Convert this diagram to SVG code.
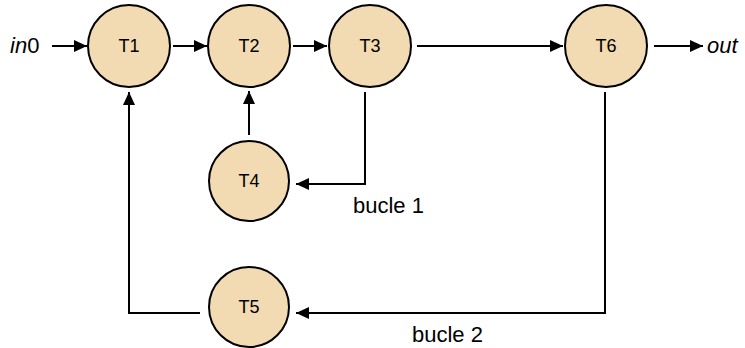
<svg xmlns="http://www.w3.org/2000/svg" width="745" height="348" viewBox="0 0 745 348">
  <style>
    .node circle { fill: #f2dab3; stroke: #000; stroke-width: 2; }
    .node text { font-family: "Liberation Sans", Arial, sans-serif; font-size: 18px; text-anchor: middle; fill: #000; }
    .edge { fill: none; stroke: #000; stroke-width: 2; }
    .lbl { font-family: "Liberation Sans", Arial, sans-serif; font-size: 22px; fill: #000; }
    .io { font-style: italic; font-size: 22px; }
    .up { font-style: normal; }
  </style>
  <defs>
    <marker id="arrow" viewBox="0 0 13 12" refX="13" refY="6" markerWidth="13" markerHeight="12" markerUnits="userSpaceOnUse" orient="auto">
      <path d="M0,0 L13,6 L0,12 Z" fill="#000"/>
    </marker>
  </defs>

  <rect width="745" height="348" fill="#fff"/>

  <g id="connectors">
    <line class="edge" x1="52" y1="46" x2="87" y2="46" marker-end="url(#arrow)"/>
    <line class="edge" x1="173" y1="46" x2="207" y2="46" marker-end="url(#arrow)"/>
    <line class="edge" x1="293" y1="46" x2="327" y2="46" marker-end="url(#arrow)"/>
    <line class="edge" x1="417" y1="46" x2="563" y2="46" marker-end="url(#arrow)"/>
    <line class="edge" x1="654" y1="46" x2="703" y2="46" marker-end="url(#arrow)"/>
    <!-- bucle 1: T3 down and back into T4, T4 up to T2 -->
    <polyline class="edge" points="365,92 365,184 296,184" marker-end="url(#arrow)"/>
    <line class="edge" x1="249" y1="135" x2="249" y2="91" marker-end="url(#arrow)"/>
    <!-- bucle 2: T6 down and back into T5, T5 round to T1 -->
    <polyline class="edge" points="605,92 605,313 296,313" marker-end="url(#arrow)"/>
    <polyline class="edge" points="200,313 129,313 129,92" marker-end="url(#arrow)"/>
  </g>

  <g id="T1" class="node"><circle cx="129" cy="46" r="41"/><text x="129" y="52">T1</text></g>
  <g id="T2" class="node"><circle cx="249" cy="46" r="41"/><text x="249" y="52">T2</text></g>
  <g id="T3" class="node"><circle cx="370" cy="46" r="41"/><text x="370" y="52">T3</text></g>
  <g id="T6" class="node"><circle cx="606" cy="46" r="41"/><text x="606" y="52">T6</text></g>
  <g id="T4" class="node"><circle cx="249" cy="181" r="40"/><text x="249" y="187">T4</text></g>
  <g id="T5" class="node"><circle cx="249" cy="307" r="40"/><text x="249" y="313">T5</text></g>

  <g id="labels">
    <text class="lbl io" x="10" y="53">in<tspan class="up">0</tspan></text>
    <text class="lbl io" x="707" y="53">out</text>
    <text class="lbl" x="353" y="213">bucle 1</text>
    <text class="lbl" x="412" y="342">bucle 2</text>
  </g>
</svg>
